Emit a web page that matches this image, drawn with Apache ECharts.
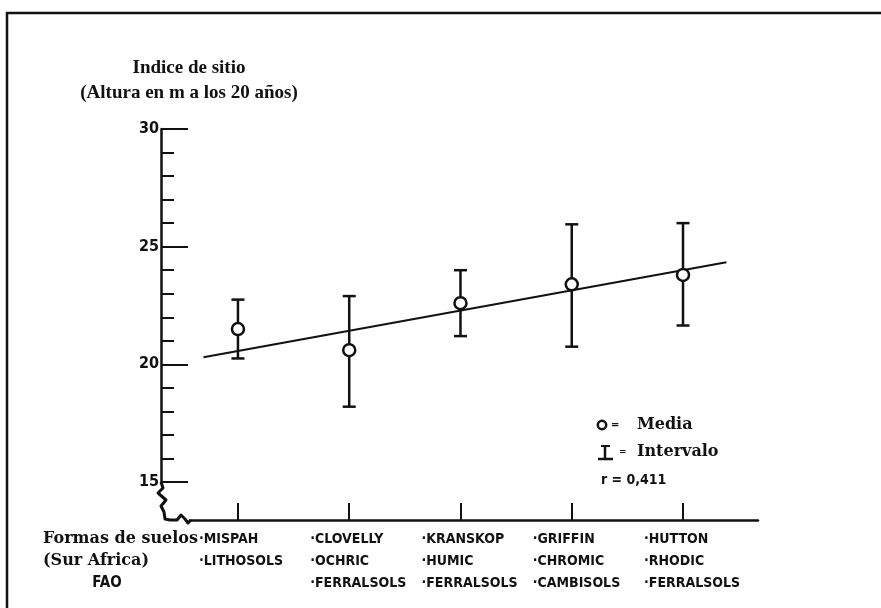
<!DOCTYPE html>
<html>
<head>
<meta charset="utf-8">
<script src="https://cdn.jsdelivr.net/npm/echarts@6/dist/echarts.min.js"></script>
<style>
  html, body { margin: 0; padding: 0; background: #fff; }
  #chart { width: 881px; height: 608px; }
</style>
</head>
<body>
<div id="chart"></div>
<script>
// Soil forms (South African classification) and FAO equivalents
const soilForms = ['MISPAH', 'CLOVELLY', 'KRANSKOP', 'GRIFFIN', 'HUTTON'];
const faoLine1 = ['LITHOSOLS', 'OCHRIC', 'HUMIC', 'CHROMIC', 'RHODIC'];
const faoLine2 = ['', 'FERRALSOLS', 'FERRALSOLS', 'CAMBISOLS', 'FERRALSOLS'];
const positions = [1, 2, 3, 4, 5];

// Site index: height (m) at 20 years
const meanValues = [21.5, 20.6, 22.6, 23.4, 23.8];
const lowValues = [20.25, 18.2, 21.2, 20.75, 21.65];
const highValues = [22.75, 22.9, 24.0, 25.95, 26.0];

// Fitted regression line (end points)
const fitX = [0.69, 5.39];
const fitY = [20.3, 24.34];
const rText = 'r = 0,411';

const INK = '#111';
const chart = echarts.init(document.getElementById('chart'), null, { renderer: 'canvas' });

const xMin = 0.569, xMax = 5.674;
const Y_OFFSET = 29;   // y axis drawn left of the grid
const X_OFFSET = 38;   // x axis drawn below the grid (axis break)

function soilLabel(v) {
  const i = positions.indexOf(Math.round(v));
  if (i < 0) return '';
  const rows = [soilForms[i], faoLine1[i], faoLine2[i]].filter(s => s);
  return rows.map(s => '{a|·' + s + '}').join('\n');
}

const option = {
  animation: false,
  backgroundColor: '#fff',
  grid: { left: 190, right: 123, top: 129, bottom: 126, containLabel: false },
  xAxis: {
    type: 'value', min: xMin, max: xMax, offset: X_OFFSET,
    splitLine: { show: false },
    axisLine: { show: true, lineStyle: { color: INK, width: 2.5 } },
    axisTick: { show: true, inside: true, length: 17, customValues: positions,
      lineStyle: { color: INK, width: 2 } },
    axisLabel: {
      show: true, customValues: positions, margin: 8, align: 'center', verticalAlign: 'top',
      formatter: soilLabel,
      rich: {
        a: { width: 78, align: 'left', fontFamily: 'DejaVu Sans Condensed', fontWeight: 'bold',
             fontSize: 14, lineHeight: 22, color: INK }
      }
    }
  },
  yAxis: {
    type: 'value', min: 15, max: 30, interval: 5, offset: Y_OFFSET,
    splitLine: { show: false },
    axisLine: { show: true, lineStyle: { color: INK, width: 2.5 } },
    axisTick: { show: true, inside: true, length: 27, lineStyle: { color: INK, width: 2 } },
    minorTick: { show: true, splitNumber: 5, length: 13, lineStyle: { color: INK, width: 2 } },
    axisLabel: { margin: 2, fontFamily: 'DejaVu Sans Condensed', fontSize: 16, fontWeight: 'bold', color: INK }
  },
  series: [
    {
      type: 'custom', name: 'Intervalo', z: 2,
      data: positions.map((x, i) => [x, lowValues[i], highValues[i]]),
      renderItem: function (params, api) {
        const x = api.value(0);
        const top = api.coord([x, api.value(2)]);
        const bot = api.coord([x, api.value(1)]);
        const w = 6.5;
        const st = { stroke: INK, lineWidth: 2.5 };
        return {
          type: 'group',
          children: [
            { type: 'line', shape: { x1: top[0], y1: top[1], x2: bot[0], y2: bot[1] }, style: st },
            { type: 'line', shape: { x1: top[0] - w, y1: top[1], x2: top[0] + w, y2: top[1] }, style: st },
            { type: 'line', shape: { x1: bot[0] - w, y1: bot[1], x2: bot[0] + w, y2: bot[1] }, style: st }
          ]
        };
      }
    },
    {
      type: 'line', name: 'Ajuste', z: 3,
      data: fitX.map((x, i) => [x, fitY[i]]),
      showSymbol: false, symbol: 'none',
      lineStyle: { color: INK, width: 2 }
    },
    {
      type: 'scatter', name: 'Media', z: 4,
      data: positions.map((x, i) => [x, meanValues[i]]),
      symbol: 'circle', symbolSize: 12,
      itemStyle: { color: '#fff', borderColor: INK, borderWidth: 2.5, opacity: 1 }
    }
  ]
};

chart.setOption(option);

// Decorations: frame, axis titles, axis break and legend key
const corner = chart.convertToPixel({ xAxisIndex: 0, yAxisIndex: 0 }, [xMin, 15]);
const axisX = corner[0] - Y_OFFSET;
const axisY = corner[1];
const breakPath = [[0, 0], [2, 6], [-3, 11], [5, 18], [0, 24], [3, 30], [4, 37], [9, 38],
  [16, 38], [20, 33], [24, 37], [27, 41], [30, 38]].map(p => [axisX + p[0], axisY + p[1]]);

const serifTitle = 'bold 19px "Liberation Serif"';
const serifBody = 'bold 16px "DejaVu Serif"';
const sansBold = 'bold 14px "DejaVu Sans Condensed"';

function txt(x, y, text, font, align) {
  return { type: 'text', x: x, y: y, silent: true,
    style: { text: text, font: font, fill: INK, align: align || 'left', verticalAlign: 'middle' } };
}

chart.setOption({
  graphic: [
    { type: 'polyline', silent: true, shape: { points: [[7, 608], [7, 13], [881, 13]] },
      style: { stroke: INK, lineWidth: 2.5, fill: null } },
    { type: 'polyline', silent: true, shape: { points: breakPath },
      style: { stroke: INK, lineWidth: 3, fill: null, lineJoin: 'round' } },
    txt(189, 68, 'Indice de sitio', serifTitle, 'center'),
    txt(189, 93, '(Altura en m a los 20 años)', serifTitle, 'center'),
    txt(43, 539, 'Formas de suelos', serifBody),
    txt(43, 561, '(Sur Africa)', serifBody),
    txt(107, 583, 'FAO', 'bold 15px "DejaVu Sans Condensed"', 'center'),
    // legend key
    { type: 'circle', silent: true, shape: { cx: 602, cy: 425, r: 4.2 },
      style: { stroke: INK, lineWidth: 2.5, fill: '#fff' } },
    txt(611, 425, '=', 'bold 10px "DejaVu Sans"'),
    txt(637, 425, 'Media', serifBody),
    { type: 'polyline', silent: true, shape: { points: [[605, 446], [605, 459]] },
      style: { stroke: INK, lineWidth: 2.5 } },
    { type: 'polyline', silent: true, shape: { points: [[601, 446], [610, 446]] },
      style: { stroke: INK, lineWidth: 2 } },
    { type: 'polyline', silent: true, shape: { points: [[598, 459], [613, 459]] },
      style: { stroke: INK, lineWidth: 2.5 } },
    txt(619, 452, '=', 'bold 9px "DejaVu Sans"'),
    txt(637, 452, 'Intervalo', serifBody),
    txt(601, 480, rText, sansBold)
  ]
});
</script>
</body>
</html>
